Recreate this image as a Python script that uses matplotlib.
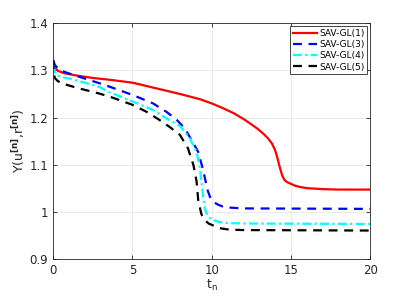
import matplotlib
matplotlib.use("Agg")
import matplotlib.pyplot as plt

plt.rcParams['font.family'] = ['DejaVu Sans']

labels = ["SAV-GL(1)", "SAV-GL(3)", "SAV-GL(4)", "SAV-GL(5)"]
colors = ["#ff0000", "#0000ff", "#00ffff", "#000000"]
styles = ["-", (0, (4, 3)), (0, (4, 1.5, 1, 1.5)), (0, (4, 3))]

t1 = [0, 0.1, 0.3, 0.7, 1.5, 2.5, 3.6, 5, 6.5, 8, 9.25, 10, 10.7, 11.4, 12.0, 12.4, 12.9, 13.25, 13.55, 13.8, 14.0, 14.15, 14.3, 14.45, 14.6, 14.75, 14.95, 15.2, 15.5, 16, 17, 18, 20]
y1 = [1.318, 1.306, 1.299, 1.294, 1.289, 1.284, 1.280, 1.274, 1.262, 1.250, 1.239, 1.230, 1.220, 1.209, 1.197, 1.188, 1.176, 1.166, 1.156, 1.145, 1.131, 1.114, 1.094, 1.077, 1.067, 1.063, 1.060, 1.056, 1.053, 1.050, 1.048, 1.047, 1.047]

t3 = [0, 0.1, 0.3, 0.7, 1.5, 2.9, 3.6, 5, 6.3, 7.15, 7.8, 8.3, 8.7, 9.15, 9.45, 9.75, 9.9, 10.0, 10.2, 10.4, 10.7, 11, 12, 20]
y3 = [1.322, 1.312, 1.304, 1.297, 1.288, 1.273, 1.265, 1.248, 1.230, 1.212, 1.195, 1.177, 1.154, 1.127, 1.090, 1.045, 1.031, 1.025, 1.019, 1.015, 1.011, 1.009, 1.007, 1.006]

t4 = [0, 0.1, 0.2, 0.5, 1, 2, 2.9, 3.6, 5, 6.3, 7.15, 8, 8.6, 9.05, 9.25, 9.4, 9.57, 9.75, 10, 10.5, 11, 12, 20]
y4 = [1.312, 1.298, 1.291, 1.286, 1.283, 1.274, 1.265, 1.253, 1.234, 1.216, 1.198, 1.182, 1.157, 1.127, 1.094, 1.050, 1.006, 0.991, 0.983, 0.978, 0.976, 0.975, 0.974]

t5 = [0, 0.05, 0.1, 0.3, 0.8, 1.5, 2.9, 3.6, 5, 5.9, 6.7, 7.35, 8, 8.5, 8.85, 9.05, 9.15, 9.35, 9.55, 9.8, 10.5, 11.1, 12, 20]
y5 = [1.322, 1.295, 1.284, 1.277, 1.270, 1.263, 1.251, 1.244, 1.227, 1.212, 1.195, 1.180, 1.163, 1.135, 1.099, 1.064, 1.025, 0.995, 0.983, 0.975, 0.965, 0.962, 0.961, 0.960]

series = [(t1, y1), (t3, y3), (t4, y4), (t5, y5)]

fig = plt.figure(figsize=(4.09, 3.07), dpi=100)
ax = fig.add_axes([0.130, 0.157, 0.775, 0.767])

for (t, y), lab, c, ls in zip(series, labels, colors, styles):
    ax.plot(t, y, color=c, linestyle=ls, linewidth=1.6, label=lab)

ax.set_xlim(0, 20)
ax.set_ylim(0.9, 1.4)
ax.set_xticks([0, 5, 10, 15, 20])
ax.set_yticks([0.9, 1.0, 1.1, 1.2, 1.3, 1.4])
ax.set_yticklabels(["0.9", "1", "1.1", "1.2", "1.3", "1.4"])
ax.grid(True, color="#e6e6e6", linewidth=0.6)
ax.set_axisbelow(True)
ax.tick_params(direction="in", length=3, width=0.6, labelsize=8.5, colors="#262626",
               top=True, right=True)
for s in ax.spines.values():
    s.set_linewidth(0.6)
    s.set_color("#262626")

ax.set_xlabel(r"t$_{\mathrm{n}}$", fontsize=9, color="#262626", labelpad=1)
ax.set_ylabel(r"$\Upsilon$(u$^{\mathbf{[n]}}$,r$^{\mathbf{[n]}}$)", fontsize=9, color="#262626", labelpad=2)

leg = ax.legend(loc="upper right", fontsize=6.5, frameon=True, fancybox=False,
                edgecolor="#262626", framealpha=1, borderpad=0.3, labelspacing=0.25,
                handlelength=2.6, handletextpad=0.3, borderaxespad=0.3)
leg.get_frame().set_linewidth(0.6)

fig.savefig("out.png", dpi=100)
